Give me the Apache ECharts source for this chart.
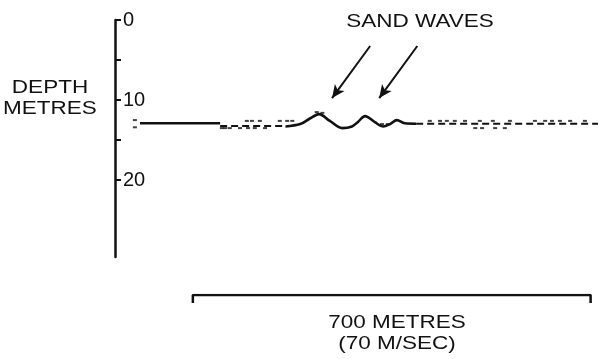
<!DOCTYPE html>
<html>
<head>
<meta charset="utf-8">
<script src="https://cdn.jsdelivr.net/npm/echarts@6/dist/echarts.min.js"></script>
<style>
  html, body { margin: 0; padding: 0; background: #fff; }
  #main { width: 598px; height: 359px; }
</style>
</head>
<body>
<div id="main"></div>
<script>
// depth axis
var depthTicks = [0, 5, 10, 15, 20];
var depthLabels = [0, 10, 20];

// seabed trace (distance in metres, depth in metres), null = gap
var profileDist = [44, 185, null, 300, 326, 343, 359, 378, 400, 417, 428, 440, 458, 472, 484, 496, 510, 530];
var profileDepth = [12.9, 12.9, null, 13.3, 13.0, 12.3, 11.75, 12.6, 13.5, 13.3, 12.7, 12.0, 12.8, 13.3, 13.0, 12.5, 12.9, 12.95];

// broken echo either side of the sand waves
var echoDist = [185, 300, null, 530, 850];
var echoDepth = [13.25, 13.25, null, 12.95, 12.95];

// speckle in the record
var speckleDist = [35, 35, 232, 241, 255, 290, 303, 312, 188, 194, 202, 220, 234, 246, 264,
    355, 365, 470, 480,
    554, 572, 584, 598, 616, 642, 665, 695, 739, 757, 769, 783, 801, 827, 634, 646, 669, 686];
var speckleDepth = [12.5, 13.4, 12.6, 12.6, 12.6, 12.6, 12.6, 12.6, 13.5, 13.5, 13.5, 13.5, 13.5, 13.5, 13.5,
    11.5, 11.6, 13.0, 13.0,
    12.6, 12.6, 12.6, 12.6, 12.6, 12.6, 12.6, 12.6, 12.6, 12.6, 12.6, 12.6, 12.6, 12.6, 13.5, 13.5, 13.5, 13.5];

// scale bar: 700 m
var scaleStart = 137;
var scaleLength = 700;

// arrows to the sand waves [tail, head]
var arrowTails = [[449, 3.25], [532, 3.25]];
var arrowHeads = [[382, 9.75], [465, 9.75]];

function pairs(xs, ys) {
    return xs.map(function (x, i) {
        return x == null ? ['-', '-'] : [x, ys[i]];
    });
}

var ink = '#111';
var font = '"Liberation Sans", Arial, sans-serif';

var chartDom = document.getElementById('main');
var myChart = echarts.init(chartDom);
var option;

option = {
    animation: false,
    grid: [
        { left: 115, right: 0, top: 20, height: 237 },
        { left: 115, right: 0, top: 295, height: 8 }
    ],
    xAxis: [
        { type: 'value', gridIndex: 0, min: 0, max: 850, show: false },
        { type: 'value', gridIndex: 1, min: 0, max: 850, show: false }
    ],
    yAxis: [
        {
            type: 'value',
            gridIndex: 0,
            inverse: true,
            min: 0,
            max: 29.6,
            axisLine: { show: true, lineStyle: { color: ink, width: 2.5 } },
            axisTick: {
                show: true,
                inside: true,
                length: 6,
                customValues: depthTicks,
                lineStyle: { color: ink, width: 2 }
            },
            axisLabel: {
                inside: true,
                margin: 8,
                customValues: depthLabels,
                color: ink,
                fontSize: 20,
                fontFamily: font
            },
            splitLine: { show: false }
        },
        { type: 'value', gridIndex: 1, inverse: true, min: 0, max: 1, show: false }
    ],
    series: [
        {
            name: 'Seabed',
            type: 'line',
            data: pairs(profileDist, profileDepth),
            showSymbol: false,
            connectNulls: false,
            smooth: 0.35,
            lineStyle: { color: ink, width: 2.6 },
            markLine: {
                silent: true,
                symbol: ['none', 'arrow'],
                symbolSize: [9, 13],
                label: { show: false },
                lineStyle: { color: ink, width: 2, type: 'solid' },
                data: arrowTails.map(function (t, i) {
                    return [{ coord: t }, { coord: arrowHeads[i] }];
                })
            }
        },
        {
            name: 'Echo',
            type: 'line',
            data: pairs(echoDist, echoDepth),
            showSymbol: false,
            connectNulls: false,
            lineStyle: { color: ink, width: 2, type: [7, 4] }
        },
        {
            name: 'Speckle',
            type: 'scatter',
            data: pairs(speckleDist, speckleDepth),
            symbol: 'rect',
            symbolSize: [4, 2],
            itemStyle: { color: ink }
        },
        {
            name: 'Scale',
            type: 'line',
            xAxisIndex: 1,
            yAxisIndex: 1,
            data: [[scaleStart, 1], [scaleStart, 0], [scaleStart + scaleLength, 0], [scaleStart + scaleLength, 1]],
            showSymbol: false,
            lineStyle: { color: ink, width: 2.5 }
        }
    ],
    graphic: [
        {
            type: 'text', x: 420, y: 22, scaleX: 1.25,
            style: { text: 'SAND WAVES', font: '18px ' + font, fill: ink, textAlign: 'center', textVerticalAlign: 'middle' }
        },
        {
            type: 'text', x: 50, y: 99, scaleX: 1.25,
            style: { text: 'DEPTH\nMETRES', font: '18px ' + font, lineHeight: 21, fill: ink, textAlign: 'center', textVerticalAlign: 'middle' }
        },
        {
            type: 'text', x: 397, y: 334, scaleX: 1.25,
            style: { text: '700 METRES\n(70 M/SEC)', font: '18px ' + font, lineHeight: 21, fill: ink, textAlign: 'center', textVerticalAlign: 'middle' }
        }
    ]
};

option && myChart.setOption(option);
</script>
</body>
</html>
